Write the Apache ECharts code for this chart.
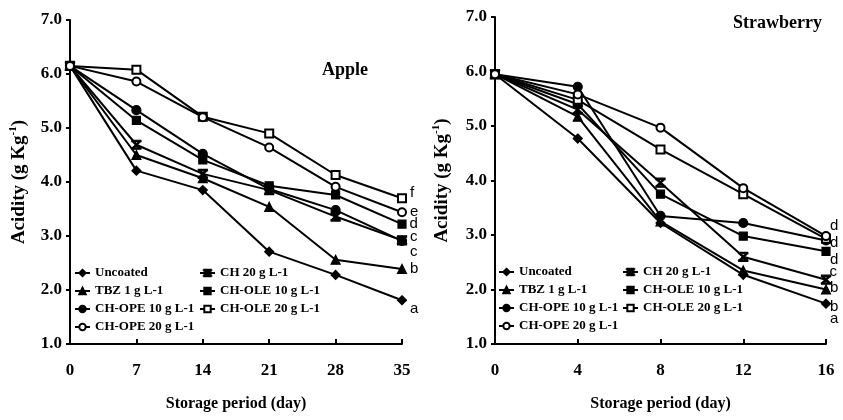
<!DOCTYPE html>
<html>
<head>
<meta charset="utf-8">
<script src="https://cdn.jsdelivr.net/npm/echarts@6/dist/echarts.min.js"></script>
<style>html,body{margin:0;padding:0;background:#fff}#c{width:843px;height:420px}</style>
</head>
<body>
<div id="c"></div>
<script>
// ---- data ----
const seriesNames = ['Uncoated','TBZ 1 g L-1','CH 20 g L-1','CH-OLE 10 g L-1','CH-OPE 10 g L-1','CH-OLE 20 g L-1','CH-OPE 20 g L-1'];
const appleDays = [0, 7, 14, 21, 28, 35];
const appleUncoated = [6.15, 4.21, 3.85, 2.71, 2.28, 1.81];
const appleTBZ      = [6.15, 4.50, 4.07, 3.54, 2.56, 2.39];
const appleCH20     = [6.15, 4.69, 4.15, 3.85, 3.36, 2.92];
const appleOLE10    = [6.15, 5.14, 4.41, 3.93, 3.76, 3.22];
const appleOPE10    = [6.15, 5.33, 4.52, 3.87, 3.48, 2.91];
const appleOLE20    = [6.15, 6.08, 5.21, 4.90, 4.13, 3.70];
const appleOPE20    = [6.15, 5.86, 5.20, 4.64, 3.91, 3.44];
const appleLetters  = ['a', 'b', 'c', 'd', 'c', 'f', 'e'];

const strawDays = [0, 4, 8, 12, 16];
const strawUncoated = [5.95, 4.77, 3.22, 2.27, 1.74];
const strawTBZ      = [5.95, 5.17, 3.25, 2.35, 2.00];
const strawCH20     = [5.95, 5.30, 3.96, 2.60, 2.18];
const strawOLE10    = [5.95, 5.40, 3.75, 2.98, 2.70];
const strawOPE10    = [5.95, 5.72, 3.35, 3.22, 2.90];
const strawOLE20    = [5.95, 5.48, 4.57, 3.75, 2.93];
const strawOPE20    = [5.95, 5.58, 4.97, 3.86, 2.98];
const strawLetters  = ['a', 'b', 'b', 'c', 'd', 'd', 'd'];

const yTicks = [1, 2, 3, 4, 5, 6, 7];

// ---- styles (not data) ----
const hourglass = 'path://M0,0L10,0L10,1.6L0,1.6Z M0,8.4L10,8.4L10,10L0,10Z M0.4,1.6L2.2,1.6L9.6,8.4L7.8,8.4Z M9.6,1.6L7.8,1.6L0.4,8.4L2.2,8.4Z';
const symbols = ['diamond', 'triangle', hourglass, 'rect', 'circle', 'emptyRect', 'emptyCircle'];
const symSizes = [9, 9, 9, 8, 9, 8, 8];
const appleLabelOffsets = [[0, 9], [0, 0], [0, 12], [0, 0], [0, -4], [0, -5], [0, 0]];
const strawLabelOffsets = [[-4, 15], [-4, 17], [-4, 8], [-4, 21], [-4, 19], [-4, 4], [-4, -10]];

const appleSets = [appleUncoated, appleTBZ, appleCH20, appleOLE10, appleOPE10, appleOLE20, appleOPE20];
const strawSets = [strawUncoated, strawTBZ, strawCH20, strawOLE10, strawOPE10, strawOLE20, strawOPE20];

const serif = 'Liberation Serif';
function buildData(days, vals, letter, offset) {
  return days.map((d, i) => {
    if (i === days.length - 1) {
      return { value: [d, vals[i]], label: { show: true, formatter: letter, position: 'right', distance: 3, offset: offset,
        fontFamily: 'Liberation Sans', fontSize: 15, color: '#000' } };
    }
    return [d, vals[i]];
  });
}

const series = [];
seriesNames.forEach((n, k) => {
  [0, 1].forEach(g => {
    const days = g === 0 ? appleDays : strawDays;
    const vals = g === 0 ? appleSets[k] : strawSets[k];
    const letter = g === 0 ? appleLetters[k] : strawLetters[k];
    const off = g === 0 ? appleLabelOffsets[k] : strawLabelOffsets[k];
    series.push({
      name: n, type: 'line', xAxisIndex: g, yAxisIndex: g,
      data: buildData(days, vals, letter, off),
      symbol: symbols[k], symbolSize: symSizes[k], showAllSymbol: true,
      lineStyle: { color: '#000', width: 2 },
      itemStyle: { color: '#000', borderColor: '#000', borderWidth: 1.2 },
      emphasis: { disabled: true },
      animation: false, z: 2 + k
    });
  });
});

const axisLine = { show: true, lineStyle: { color: '#000', width: 2 } };
function xAxis(gi, max, interval) {
  return {
    type: 'value', gridIndex: gi, min: 0, max: max, interval: interval,
    axisLine: axisLine, axisTick: { show: true, inside: true, length: 5, lineStyle: { color: '#000', width: 2 } },
    splitLine: { show: false },
    axisLabel: { color: '#000', fontFamily: serif, fontWeight: 'bold', fontSize: 17, margin: 18 },
    name: 'Storage period (day)', nameLocation: 'middle', nameGap: 52,
    nameTextStyle: { color: '#000', fontFamily: serif, fontWeight: 'bold', fontSize: 16 }
  };
}
function yAxis(gi, gap) {
  return {
    type: 'value', gridIndex: gi, min: yTicks[0], max: yTicks[yTicks.length - 1], interval: 1,
    axisLine: axisLine, axisTick: { show: true, inside: false, length: 4, lineStyle: { color: '#000', width: 2 } },
    splitLine: { show: false },
    axisLabel: { color: '#000', fontFamily: serif, fontWeight: 'bold', fontSize: 17, margin: 8,
      formatter: v => v.toFixed(1) },
    name: 'Acidity (g Kg{sup|-1})', nameLocation: 'middle', nameGap: gap, nameRotate: 90,
    nameTextStyle: { color: '#000', fontFamily: serif, fontWeight: 'bold', fontSize: 19, lineHeight: 22,
      rich: { sup: { fontFamily: serif, fontWeight: 'bold', fontSize: 11, lineHeight: 22, verticalAlign: 'top', padding: [0, 0, 9, 0] } } }
  };
}

const legendText = { color: '#000', fontFamily: serif, fontWeight: 'bold', fontSize: 13, lineHeight: 16 };
function legend(names, left, top) {
  return {
    data: names, orient: 'vertical', left: left, top: top, itemWidth: 15, itemHeight: 8, itemGap: 2,
    textStyle: legendText, selectedMode: false, padding: 0
  };
}
const col1 = [seriesNames[0], seriesNames[1], seriesNames[4], seriesNames[6]];
const col2 = [seriesNames[2], seriesNames[3], seriesNames[5]];

const chart = echarts.init(document.getElementById('c'));
chart.setOption({
  backgroundColor: '#fff',
  animation: false,
  title: [
    { text: 'Apple', left: 322, top: 61, padding: 0, textStyle: { color: '#000', fontFamily: serif, fontWeight: 'bold', fontSize: 18 } },
    { text: 'Strawberry', left: 733, top: 14, padding: 0, textStyle: { color: '#000', fontFamily: serif, fontWeight: 'bold', fontSize: 18 } }
  ],
  grid: [
    { left: 70, right: 441, top: 20, bottom: 76 },
    { left: 495, right: 17, top: 17, bottom: 76 }
  ],
  xAxis: [xAxis(0, 35, 7), xAxis(1, 16, 4)],
  yAxis: [yAxis(0, 40), yAxis(1, 42)],
  legend: [
    legend(col1, 74, 265), legend(col2, 199, 265),
    legend(col1, 498, 264), legend(col2, 622, 264)
  ],
  series: series
});
</script>
</body>
</html>
